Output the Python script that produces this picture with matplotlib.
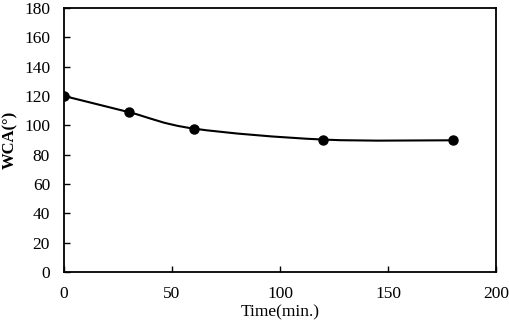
# WCA vs time plot

import matplotlib
matplotlib.use("Agg")
import matplotlib.pyplot as plt
from matplotlib.path import Path
from matplotlib.patches import PathPatch

# data
time_min = [0, 30, 60, 120, 180]
wca = [120, 109, 97.8, 90.3, 89.8]
wca_err = [0.8, 0.8, 0.8, 0.8, 1.8]

x_ticks = [0, 50, 100, 150, 200]
y_ticks = [0, 20, 40, 60, 80, 100, 120, 140, 160, 180]

plt.rcParams['font.family'] = ['Liberation Serif', 'DejaVu Serif']

fig = plt.figure(figsize=(5.10, 3.26), dpi=100)
ax = fig.add_axes([64/510, 1 - 272/326, 432/510, 264/326])


# garis halus ala Excel (Bezier lewat titik data)
def smooth_path(xs, ys, t=1/6):
    verts = [(xs[0], ys[0])]
    codes = [Path.MOVETO]
    n = len(xs)
    for i in range(n - 1):
        x0, y0 = (xs[i - 1], ys[i - 1]) if i > 0 else (xs[i], ys[i])
        x1, y1 = xs[i], ys[i]
        x2, y2 = xs[i + 1], ys[i + 1]
        x3, y3 = (xs[i + 2], ys[i + 2]) if i + 2 < n else (x2, y2)
        c1 = (x1 + (x2 - x0) * t, y1 + (y2 - y0) * t)
        c2 = (x2 - (x3 - x1) * t, y2 - (y3 - y1) * t)
        verts += [c1, c2, (x2, y2)]
        codes += [Path.CURVE4] * 3
    return Path(verts, codes)


ax.add_patch(PathPatch(smooth_path(time_min, wca), facecolor='none',
                       edgecolor='black', lw=1.5))
ax.errorbar(time_min, wca, yerr=wca_err, fmt='o', color='black',
            markersize=6.5, elinewidth=1, capsize=2.5, zorder=3)

ax.set_xlim(0, 200)
ax.set_ylim(0, 180)
ax.set_xticks(x_ticks)
ax.set_yticks(y_ticks)
ax.tick_params(direction='in', length=4, width=1, labelsize=12.5)
ax.tick_params(axis='x', pad=10)
ax.tick_params(axis='y', pad=10)
for s in ax.spines.values():
    s.set_linewidth(1.3)

ax.set_xlabel("Time(min.)", fontsize=12.5, labelpad=2)
ax.set_ylabel("WCA(°)", fontsize=12, fontweight='bold')
ax.yaxis.set_label_coords(-0.105, 0.5)

plt.savefig("out.png", dpi=100)
